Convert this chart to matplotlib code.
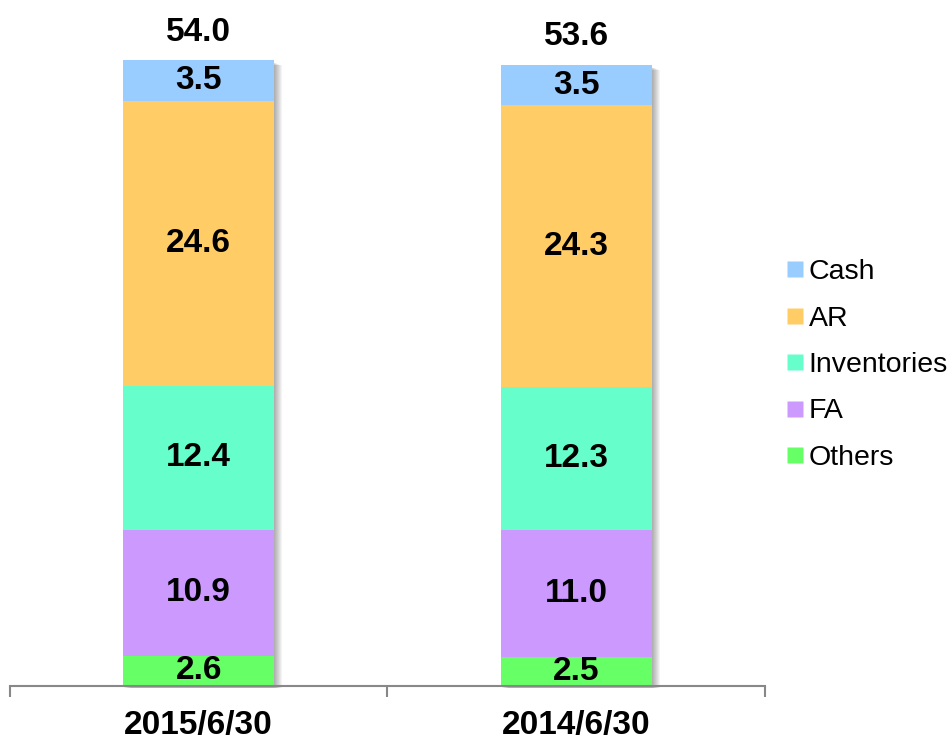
import numpy as np
import matplotlib.pyplot as plt
from matplotlib.lines import Line2D
from matplotlib.patches import Rectangle

plt.rcParams['font.family'] = ['Liberation Sans', 'DejaVu Sans']

# data
periods = ["2015/6/30", "2014/6/30"]
segments = ["Others", "FA", "Inventories", "AR", "Cash"]
others = [2.6, 2.5]
fa = [10.9, 11.0]
inventories = [12.4, 12.3]
ar = [24.6, 24.3]
cash = [3.5, 3.5]
totals = [54.0, 53.6]

colors = {
    "Cash": "#99CCFF",
    "AR": "#FFCC66",
    "Inventories": "#66FFCC",
    "FA": "#CC99FF",
    "Others": "#66FF66",
}

values = {"Others": others, "FA": fa, "Inventories": inventories, "AR": ar, "Cash": cash}

fig = plt.figure(figsize=(9.52, 7.42), dpi=100)
ax = fig.add_axes([10 / 952, 56 / 742, 755 / 952, 686 / 742])

x = np.arange(len(periods))
width = 0.4
ax.set_xlim(-0.5, 1.5)
ax.set_ylim(0, 686 / 11.59)

# soft shadow to the right of each bar
px = 1.0 / 377
py = 1.0 / 11.59
for i in range(len(periods)):
    for k in range(1, 9):
        ax.add_patch(Rectangle((x[i] - width / 2 + k * px, -2 * py), width, totals[i] - k * 0.4 * py,
                               facecolor="black", alpha=0.045, edgecolor="none", zorder=1,
                               clip_on=False))

bottom = np.zeros(len(periods))
for seg in segments:
    vals = np.array(values[seg])
    ax.bar(x, vals, width, bottom=bottom, color=colors[seg], edgecolor="none", zorder=2)
    for i, v in enumerate(vals):
        ax.text(x[i], bottom[i] + v / 2, "%.1f" % v, ha="center", va="center",
                fontsize=24, fontweight="bold", zorder=3)
    bottom = bottom + vals

for i, t in enumerate(totals):
    ax.annotate("%.1f" % t, (x[i], bottom[i]), xytext=(0, 9), textcoords="offset points",
                ha="center", va="bottom", fontsize=24, fontweight="bold", annotation_clip=False)

for s in ["top", "right", "left"]:
    ax.spines[s].set_visible(False)
ax.spines["bottom"].set_color("#888888")
ax.spines["bottom"].set_linewidth(1.5)
ax.spines["bottom"].set_zorder(4)
ax.set_yticks([])

ax.set_xticks([-0.5, 0.5, 1.5])
ax.set_xticklabels([])
ax.tick_params(axis="x", which="major", direction="out", length=8, width=1.5, color="#888888")
ax.set_xticks(x, minor=True)
ax.set_xticklabels(periods, minor=True, fontsize=24, fontweight="bold")
ax.tick_params(axis="x", which="minor", length=0, pad=17)

handles = [Line2D([], [], marker="s", linestyle="none", markersize=11,
                  markerfacecolor=colors[s], markeredgecolor="none") for s in segments[::-1]]
fig.legend(handles, segments[::-1], loc="center left", bbox_to_anchor=(786 / 952, 1 - 365 / 742),
           frameon=False, fontsize=20.5, handlelength=0.6, handletextpad=0.2,
           labelspacing=0.72, borderpad=0, borderaxespad=0)

fig.savefig("out.png", dpi=100)
